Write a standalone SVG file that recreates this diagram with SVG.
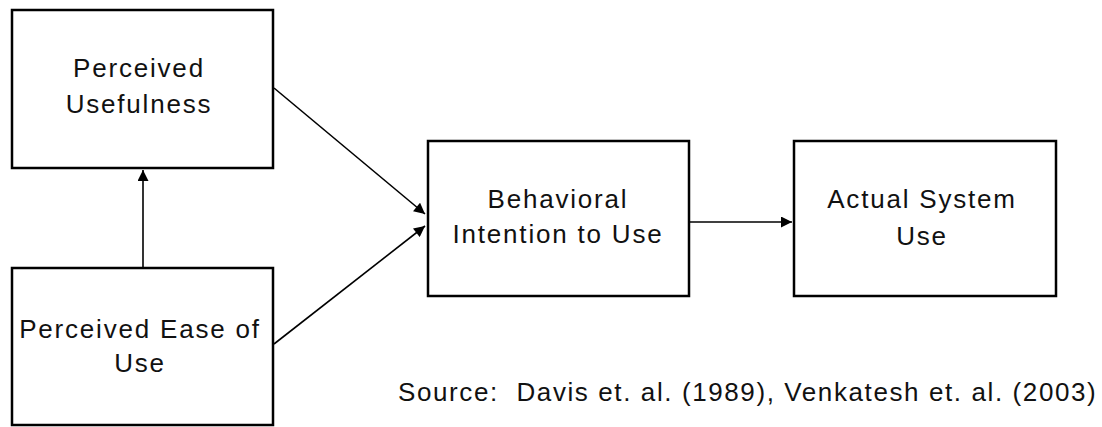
<svg xmlns="http://www.w3.org/2000/svg" width="1102" height="427" viewBox="0 0 1102 427">
<defs>
<marker id="arr" viewBox="0 0 10 10" refX="10" refY="5" markerWidth="12" markerHeight="11" markerUnits="userSpaceOnUse" orient="auto">
<path d="M0,0 L10,5 L0,10 z" fill="#000"/>
</marker>
<style>
.box{fill:#fff;stroke:#000;stroke-width:2.5}
.t{font-family:"Liberation Sans",Arial,sans-serif;font-size:26px;fill:#111;text-anchor:middle;letter-spacing:1.8px;white-space:pre}
.c{stroke:#000;stroke-width:1.6;fill:none;marker-end:url(#arr)}
</style>
</defs>
<rect width="1102" height="427" fill="#fff"/>
<g id="connectors">
<line class="c" x1="143" y1="268" x2="143" y2="170"/>
<line class="c" x1="274" y1="88" x2="425" y2="214"/>
<line class="c" x1="274" y1="344" x2="425" y2="226"/>
<line class="c" x1="689" y1="222" x2="792" y2="222"/>
</g>
<g id="pu">
<rect class="box" x="12" y="10" width="261" height="158"/>
<text class="t" x="139" y="77">Perceived</text>
<text class="t" x="139" y="113">Usefulness</text>
</g>
<g id="peou">
<rect class="box" x="12" y="268" width="261" height="157"/>
<text class="t" x="140" y="338">Perceived Ease of</text>
<text class="t" x="140" y="372">Use</text>
</g>
<g id="bi">
<rect class="box" x="428" y="141" width="261" height="155"/>
<text class="t" x="558" y="208">Behavioral</text>
<text class="t" x="558" y="243">Intention to Use</text>
</g>
<g id="asu">
<rect class="box" x="794" y="141" width="262" height="155"/>
<text class="t" x="922" y="208">Actual System</text>
<text class="t" x="922" y="245">Use</text>
</g>
<g id="source">
<text class="t" x="398" y="401" style="text-anchor:start;letter-spacing:1.6px" xml:space="preserve">Source:  Davis et. al. (1989), Venkatesh et. al. (2003)</text>
</g>
</svg>
